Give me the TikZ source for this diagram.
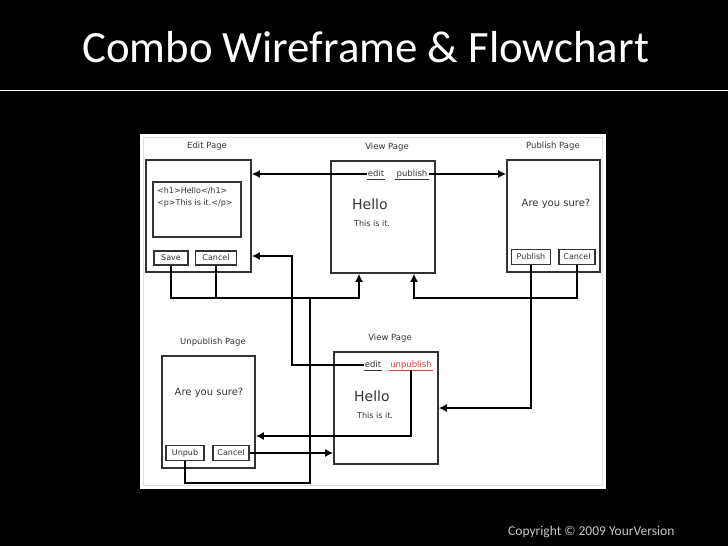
\documentclass[tikz,border=0pt]{standalone}
\usepackage{fontspec}
\setmainfont{Carlito}
\newfontfamily\wire{DejaVu Sans}
\usetikzlibrary{positioning, arrows.meta}

\definecolor{ink}{HTML}{333333}
\definecolor{redlink}{HTML}{E23B3B}

\tikzset{
	page/.style={draw=ink, line width=1.6pt, inner sep=0pt, minimum height=112pt},
	btn/.style={draw=ink, line width=1.3pt, inner sep=0pt, minimum height=14pt, text=ink, font=\wire\fontsize{8}{9}\selectfont},
	lbl/.style={text=ink, font=\wire\fontsize{8.5}{10}\selectfont},
	lnk/.style={text=ink, inner sep=1pt, text height=6.5pt, text depth=2pt, font=\wire\fontsize{8.5}{10}\selectfont},
	small/.style={text=ink, inner sep=0pt, anchor=base west, font=\wire\fontsize{8}{12}\selectfont},
	big/.style={text=ink, inner sep=0pt, anchor=base west, font=\wire\fontsize{14}{16}\selectfont},
	ask/.style={text=ink, font=\wire\fontsize{10}{12}\selectfont},
	flow/.style={-{Latex[length=8pt, width=8pt]}, line width=1.5pt},
	wireline/.style={line width=1.5pt},
}

\begin{document}
\begin{tikzpicture}[x=1pt, y=-1pt]
	\fill[black] (0,0) rectangle (728,546);
	\useasboundingbox (0,0) rectangle (728,546);
	\node[text=white, anchor=base west, inner sep=0pt, font=\fontsize{44.8}{50}\selectfont] (title) at (82,62) {Combo Wireframe \& Flowchart};
	\draw[white, line width=1pt] (0,90) -- (728,90);
	\fill[white] (140,134) rectangle (606,489);
	\draw[black!12, line width=0.8pt] (143,137) rectangle (602,485);
	\node[text=black!22, anchor=base west, inner sep=0pt, font=\fontsize{13.5}{15}\selectfont] (copy) at (508,535) {Copyright © 2009 YourVersion};

	\node[lbl] (editlbl) at (207,146) {Edit Page};
	\node[page, minimum width=105pt] (editpg) at (198.5,216) {};
	\node[page, line width=1.3pt, minimum width=88pt, minimum height=55pt] (code) at (197,209.5) {};
	\node[small, anchor=north west, align=left] (codetxt) at (157,187) {<h1>Hello</h1>\\<p>This is it.</p>};
	\node[btn, minimum width=34pt] (save) at (171,258) {Save};
	\node[btn, minimum width=41pt] (cancelA) at (216,258) {Cancel};

	\node[lbl] (viewlbl) at (387,147) {View Page};
	\node[page, minimum width=104pt] (viewpg) at (383,217) {};
	\node[lnk] (edita) at (376,174) {edit};
	\node[lnk] (puba) at (412,174) {publish};
	\draw[ink, line width=1.2pt] (edita.south west) -- (edita.south east);
	\draw[ink, line width=1.2pt] (puba.south west) -- (puba.south east);
	\node[big] (helloa) at (352,209) {Hello};
	\node[small] (texta) at (354,226) {This is it.};

	\node[lbl] (publbl) at (553,146) {Publish Page};
	\node[page, minimum width=93pt] (pubpg) at (553.5,216) {};
	\node[ask] (aska) at (556,204) {Are you sure?};
	\node[btn, minimum width=39pt, minimum height=15pt] (pubbtn) at (531,257) {Publish};
	\node[btn, minimum width=36pt, minimum height=15pt] (cancelB) at (577,257) {Cancel};

	\node[lbl] (unpublbl) at (213,342) {Unpublish Page};
	\node[page, minimum width=93pt] (unpubpg) at (208.5,412) {};
	\node[ask] (askb) at (209,393) {Are you sure?};
	\node[btn, minimum width=38pt, minimum height=15pt] (unpubbtn) at (185,453) {Unpub};
	\node[btn, minimum width=36pt, minimum height=15pt] (cancelC) at (231,453) {Cancel};

	\node[lbl] (viewblbl) at (390,338) {View Page};
	\node[page, minimum width=104pt] (viewpgb) at (386,408) {};
	\node[lnk] (editb) at (373,365) {edit};
	\node[lnk, text=redlink] (unpuba) at (411,365) {unpublish};
	\draw[ink, line width=1.2pt] (editb.south west) -- (editb.south east);
	\draw[redlink, line width=1.2pt] (unpuba.south west) -- (unpuba.south east);
	\node[big] (hellob) at (354,401) {Hello};
	\node[small] (textb) at (357,418) {This is it.};

	\coordinate (mergeA) at (359,298);
	\coordinate (mergeB) at (414,298);
	\coordinate (backE) at (292,256);
	\coordinate (backU) at (410,436);
	\coordinate (loopP) at (310,483);

	\draw[flow] (edita.west) -- (edita.west -| editpg.east);
	\draw[flow] (puba.east) -- (puba.east -| pubpg.west);
	\draw[wireline] (save.south) |- (mergeA);
	\draw[flow] (cancelA.south) |- (mergeA) -- (mergeA |- viewpg.south);
	\draw[flow] (cancelB.south) |- (mergeB) -- (mergeB |- viewpg.south);
	\draw[flow] (pubbtn.south) |- (viewpgb.east);
	\draw[flow] (editb.west) -| (backE) -- (backE -| editpg.east);
	\draw[flow] (unpuba.south) |- (backU -| unpubpg.east);
	\draw[flow] (cancelC.east) -- (cancelC.east -| viewpgb.west);
	\draw[wireline] (unpubbtn.south) |- (loopP) -- (loopP |- mergeA);
\end{tikzpicture}
\end{document}
